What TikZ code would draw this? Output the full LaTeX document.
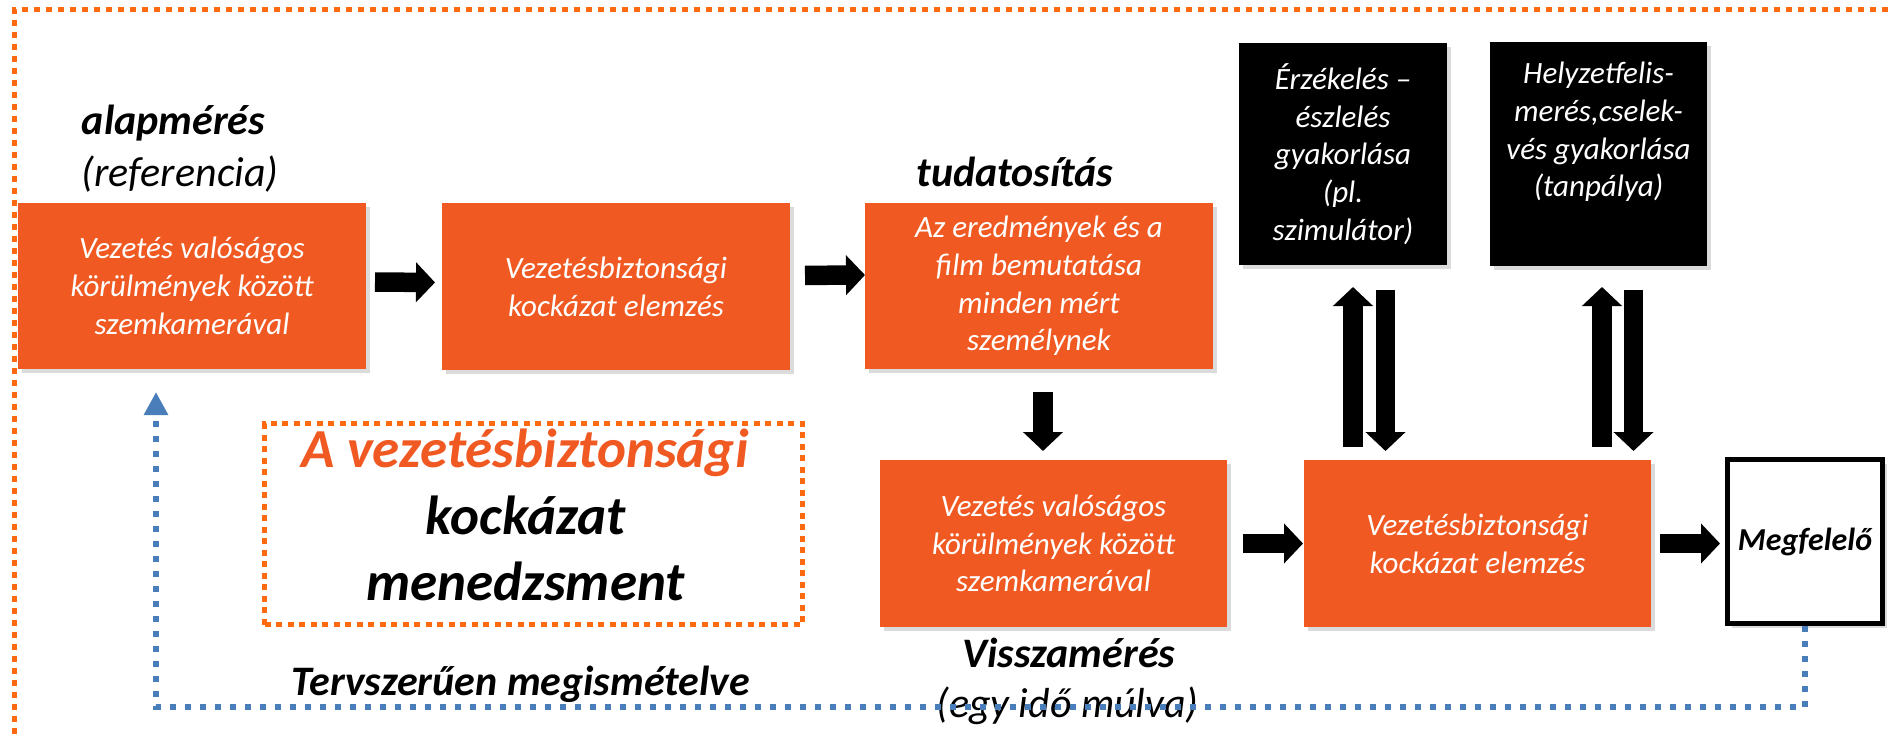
\documentclass[tikz,border=0pt]{standalone}
\usepackage{fontspec}
\setmainfont{Carlito}
\usetikzlibrary{arrows.meta,shadows,calc}
\definecolor{boxor}{HTML}{F05A22}
\definecolor{dotor}{HTML}{FF6A10}
\definecolor{fbblue}{HTML}{4A7EBB}
\newcommand\myfs[2]{\fontsize{#1}{#2}\selectfont}
\tikzset{
  shad/.style={drop shadow={shadow xshift=4pt, shadow yshift=-4pt, opacity=0.28}},
  obox/.style={shad, fill=boxor, minimum width=348pt, minimum height=166pt, inner sep=0pt, outer sep=0pt,
    text=white, align=center, font=\myfs{31}{37.8}\itshape},
  kbox/.style={shad, fill=black, inner sep=0pt, outer sep=0pt,
    text=white, align=center, font=\myfs{31}{37.8}\itshape},
  okbox/.style={shad, draw=black, line width=5pt, fill=white, minimum width=155pt, minimum height=164pt,
    inner sep=0pt, align=center, font=\myfs{32}{38}\bfseries\itshape},
  mgbox/.style={draw=dotor, line width=5pt, dash pattern=on 6pt off 5.5pt, minimum width=538pt, minimum height=201pt, inner sep=0pt},
  mgtxt/.style={font=\myfs{55}{66}\bfseries\itshape, anchor=base, inner sep=0pt},
  fat/.style={line width=19.5pt, -{Triangle[length=19pt,width=39pt]}},
  lbl/.style={font=\myfs{42}{50}\bfseries\itshape, anchor=base, inner sep=0pt},
  lblr/.style={font=\myfs{42}{50}\itshape, anchor=base, inner sep=0pt},
  fb/.style={fbblue, line width=6pt, dash pattern=on 6pt off 9pt, -{Triangle[length=23pt,width=23pt]}},
  frame/.style={dotor, line width=5pt, dash pattern=on 6pt off 6pt},
}
\begin{document}
\begin{tikzpicture}[x=1pt,y=-1pt]
\useasboundingbox (0,0) rectangle (1891,738);
\fill[white] (0,0) rectangle (1891,738);
% outer dotted frame
\coordinate (frTR) at (1900,10);
\coordinate (frTL) at (14,10);
\coordinate (frBL) at (14,750);
\draw[frame] (frTR) -- (frTL) -- (frBL);

% top row boxes
\node[obox] (b1) at (192,286) {Vezetés valóságos\\körülmények között\\szemkamerával};
\node[obox, minimum height=167pt] (b2) at (616,286.5) {Vezetésbiztonsági\\kockázat elemzés};
\node[obox] (b3) at (1039,286) {Az eredmények és a\\film bemutatása\\minden mért\\személynek};

% black boxes
\node[kbox, minimum width=208pt, minimum height=222pt] (bA) at (1343,154)
  {Érzékelés --\\észlelés\\gyakorlása\\(pl.\\szimulátor)};
\node[kbox, minimum width=217pt, minimum height=224pt] (bB) at (1598.5,154)
  {Helyzetfelis-\\merés,cselek-\\vés gyakorlása\\(tanpálya)\\\strut};

% bottom row boxes
\node[obox, minimum width=347pt, minimum height=167pt] (b4) at (1053.5,543.5) {Vezetés valóságos\\körülmények között\\szemkamerával};
\node[obox, minimum width=347pt, minimum height=167pt] (b5) at (1477.5,543.5) {Vezetésbiztonsági\\kockázat elemzés};
\node[okbox] (ok) at (1805,541.5) {Megfelelő};

% management box
\node[mgbox] (mg) at (533.5,524) {};
\node[mgtxt, text=boxor] (mg1) at (525,467) {A vezetésbiztonsági};
\node[mgtxt] (mg2) at (525.5,534) {kockázat};
\node[mgtxt] (mg3) at (525.5,600) {menedzsment};

% labels
\node[lbl] (l1) at (173.5,135) {alapmérés};
\node[lblr] (l2) at (180,187) {(referencia)};
\node[lbl] (l3) at (1015,187) {tudatosítás};
\node[lbl] (l4) at (1069,667) {Visszamérés};
\node[lblr] (l5) at (1067.5,717) {(egy idő múlva)};
\node[lbl] (l6) at (521,695) {Tervszerűen megismételve};

% fat arrows
\draw[fat, shorten <=9pt, shorten >=7pt] ([yshift=4pt]b1.east) -- ([yshift=4pt]b2.west);
\draw[fat, shorten <=15pt, shorten >=0pt] ([yshift=11pt]b2.east) -- ([yshift=11pt]b3.west);
\draw[fat, shorten <=23pt, shorten >=9pt] ([xshift=4pt]b3.south) -- ([xshift=4pt]b3.south |- b4.north);
\draw[fat, shorten <=16pt, shorten >=1pt] (b4.east) -- (b5.west);
\draw[fat, shorten <=9pt, shorten >=5pt] (b5.east) -- (b5.east -| ok.west);

\draw[fat, shorten <=13pt, shorten >=22pt] ([xshift=10pt]bA.south |- b5.north) -- ([xshift=10pt]bA.south);
\draw[fat, shorten <=25pt, shorten >=9pt] ([xshift=42.5pt]bA.south) -- ([xshift=42.5pt]bA.south |- b5.north);
\draw[fat, shorten <=13pt, shorten >=21pt] ([xshift=3.5pt]bB.south |- b5.north) -- ([xshift=3.5pt]bB.south);
\draw[fat, shorten <=24pt, shorten >=9pt] ([xshift=35pt]bB.south) -- ([xshift=35pt]bB.south |- b5.north);

% feedback loop
\coordinate (fbc) at (156,707);
\draw[fb, shorten >=23pt] (ok.south) |- (fbc) -- ([xshift=-36pt]b1.south);
\end{tikzpicture}
\end{document}
